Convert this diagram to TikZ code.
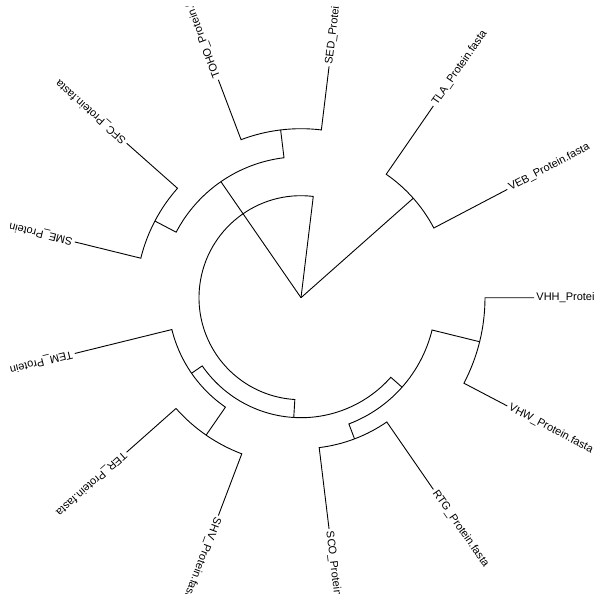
\documentclass[tikz,border=0pt]{standalone}
\usepackage{fontspec}
\setmainfont{Liberation Sans}
\usepackage{tikz}
\usetikzlibrary{shapes,arrows}

\begin{document}
\begin{tikzpicture}[x=1pt,y=1pt,line width=0.9pt,
    tip/.style={anchor=west,inner sep=0pt,font=\fontsize{11}{12}\selectfont}]
\useasboundingbox (-301,-302.3) rectangle (299,297.7);
\clip (-290.5,-295.3) rectangle (293.5,291);

% inner nodes of the fan
\coordinate (root) at (0,0);
\coordinate (nA) at (41.54:150);
\coordinate (nB) at (124.62:141);
\coordinate (nC) at (83.08:102);
\coordinate (nTS) at (96.92:169);
\coordinate (nD) at (152.31:165);
\coordinate (nG) at (266.54:120);
\coordinate (nH) at (214.62:133);
\coordinate (nJ) at (235.38:167);
\coordinate (nF) at (318.46:135);
\coordinate (nI) at (290.77:151);
\coordinate (nE) at (346.15:184);

% tips
\coordinate (tVEB) at (27.69:233);
\coordinate (tTLA) at (55.38:233);
\coordinate (tSED) at (83.08:233);
\coordinate (tTOHO) at (110.77:233);
\coordinate (tSFC) at (138.46:233);
\coordinate (tSME) at (166.15:233);
\coordinate (tTEM) at (193.85:233);
\coordinate (tTER) at (221.54:233);
\coordinate (tSHV) at (249.23:233);
\coordinate (tSCO) at (276.92:233);
\coordinate (tRTG) at (304.62:233);
\coordinate (tVHW) at (332.31:233);
\coordinate (tVHH) at (360:233);

\draw
    node at (27.69:235)[tip,rotate=27.69,name=veb]{VEB\_Protein.fasta}
    node at (55.38:235)[tip,rotate=55.38,name=tla]{TLA\_Protein.fasta}
    node at (83.08:235)[tip,rotate=83.08,name=sed]{SED\_Protein.fasta}
    node at (110.77:235)[tip,rotate=110.77,name=toho]{TOHO\_Protein.fasta}
    node at (138.46:235)[tip,rotate=138.46,name=sfc]{SFC\_Protein.fasta}
    node at (166.15:235)[tip,rotate=166.15,name=sme]{SME\_Protein.fasta}
    node at (193.85:235)[tip,rotate=193.85,name=tem]{TEM\_Protein.fasta}
    node at (221.54:235)[tip,rotate=221.54,name=ter]{TER\_Protein.fasta}
    node at (249.23:235)[tip,rotate=249.23,name=shv]{SHV\_Protein.fasta}
    node at (276.92:235)[tip,rotate=276.92,name=sco]{SCO\_Protein.fasta}
    node at (304.62:235)[tip,rotate=304.62,name=rtg]{RTG\_Protein.fasta}
    node at (332.31:235)[tip,rotate=332.31,name=vhw]{VHW\_Protein.fasta}
    node at (360:235)[tip,rotate=0,name=vhh]{VHH\_Protein.fasta}
;

    \draw (root) -- (nA);
    \draw (root) -- (nB);
    \draw (root) -- (nC);

    \draw (nA) arc[start angle=41.54,end angle=27.69,radius=150pt] -- (tVEB);
    \draw (nA) arc[start angle=41.54,end angle=55.38,radius=150pt] -- (tTLA);

    \draw (nB) arc[start angle=124.62,end angle=96.92,radius=141pt] -- (nTS);
    \draw (nB) arc[start angle=124.62,end angle=152.31,radius=141pt] -- (nD);
    \draw (nTS) arc[start angle=96.92,end angle=83.08,radius=169pt] -- (tSED);
    \draw (nTS) arc[start angle=96.92,end angle=110.77,radius=169pt] -- (tTOHO);
    \draw (nD) arc[start angle=152.31,end angle=138.46,radius=165pt] -- (tSFC);
    \draw (nD) arc[start angle=152.31,end angle=166.15,radius=165pt] -- (tSME);

    \draw (nC) arc[start angle=83.08,end angle=266.54,radius=102pt] -- (nG);
    \draw (nG) arc[start angle=266.54,end angle=214.62,radius=120pt] -- (nH);
    \draw (nG) arc[start angle=266.54,end angle=318.46,radius=120pt] -- (nF);
    \draw (nH) arc[start angle=214.62,end angle=193.85,radius=133pt] -- (tTEM);
    \draw (nH) arc[start angle=214.62,end angle=235.38,radius=133pt] -- (nJ);
    \draw (nJ) arc[start angle=235.38,end angle=221.54,radius=167pt] -- (tTER);
    \draw (nJ) arc[start angle=235.38,end angle=249.23,radius=167pt] -- (tSHV);
    \draw (nF) arc[start angle=318.46,end angle=290.77,radius=135pt] -- (nI);
    \draw (nF) arc[start angle=318.46,end angle=346.15,radius=135pt] -- (nE);
    \draw (nI) arc[start angle=290.77,end angle=276.92,radius=151pt] -- (tSCO);
    \draw (nI) arc[start angle=290.77,end angle=304.62,radius=151pt] -- (tRTG);
    \draw (nE) arc[start angle=346.15,end angle=332.31,radius=184pt] -- (tVHW);
    \draw (nE) arc[start angle=346.15,end angle=360,radius=184pt] -- (tVHH);
\end{tikzpicture}
\end{document}
